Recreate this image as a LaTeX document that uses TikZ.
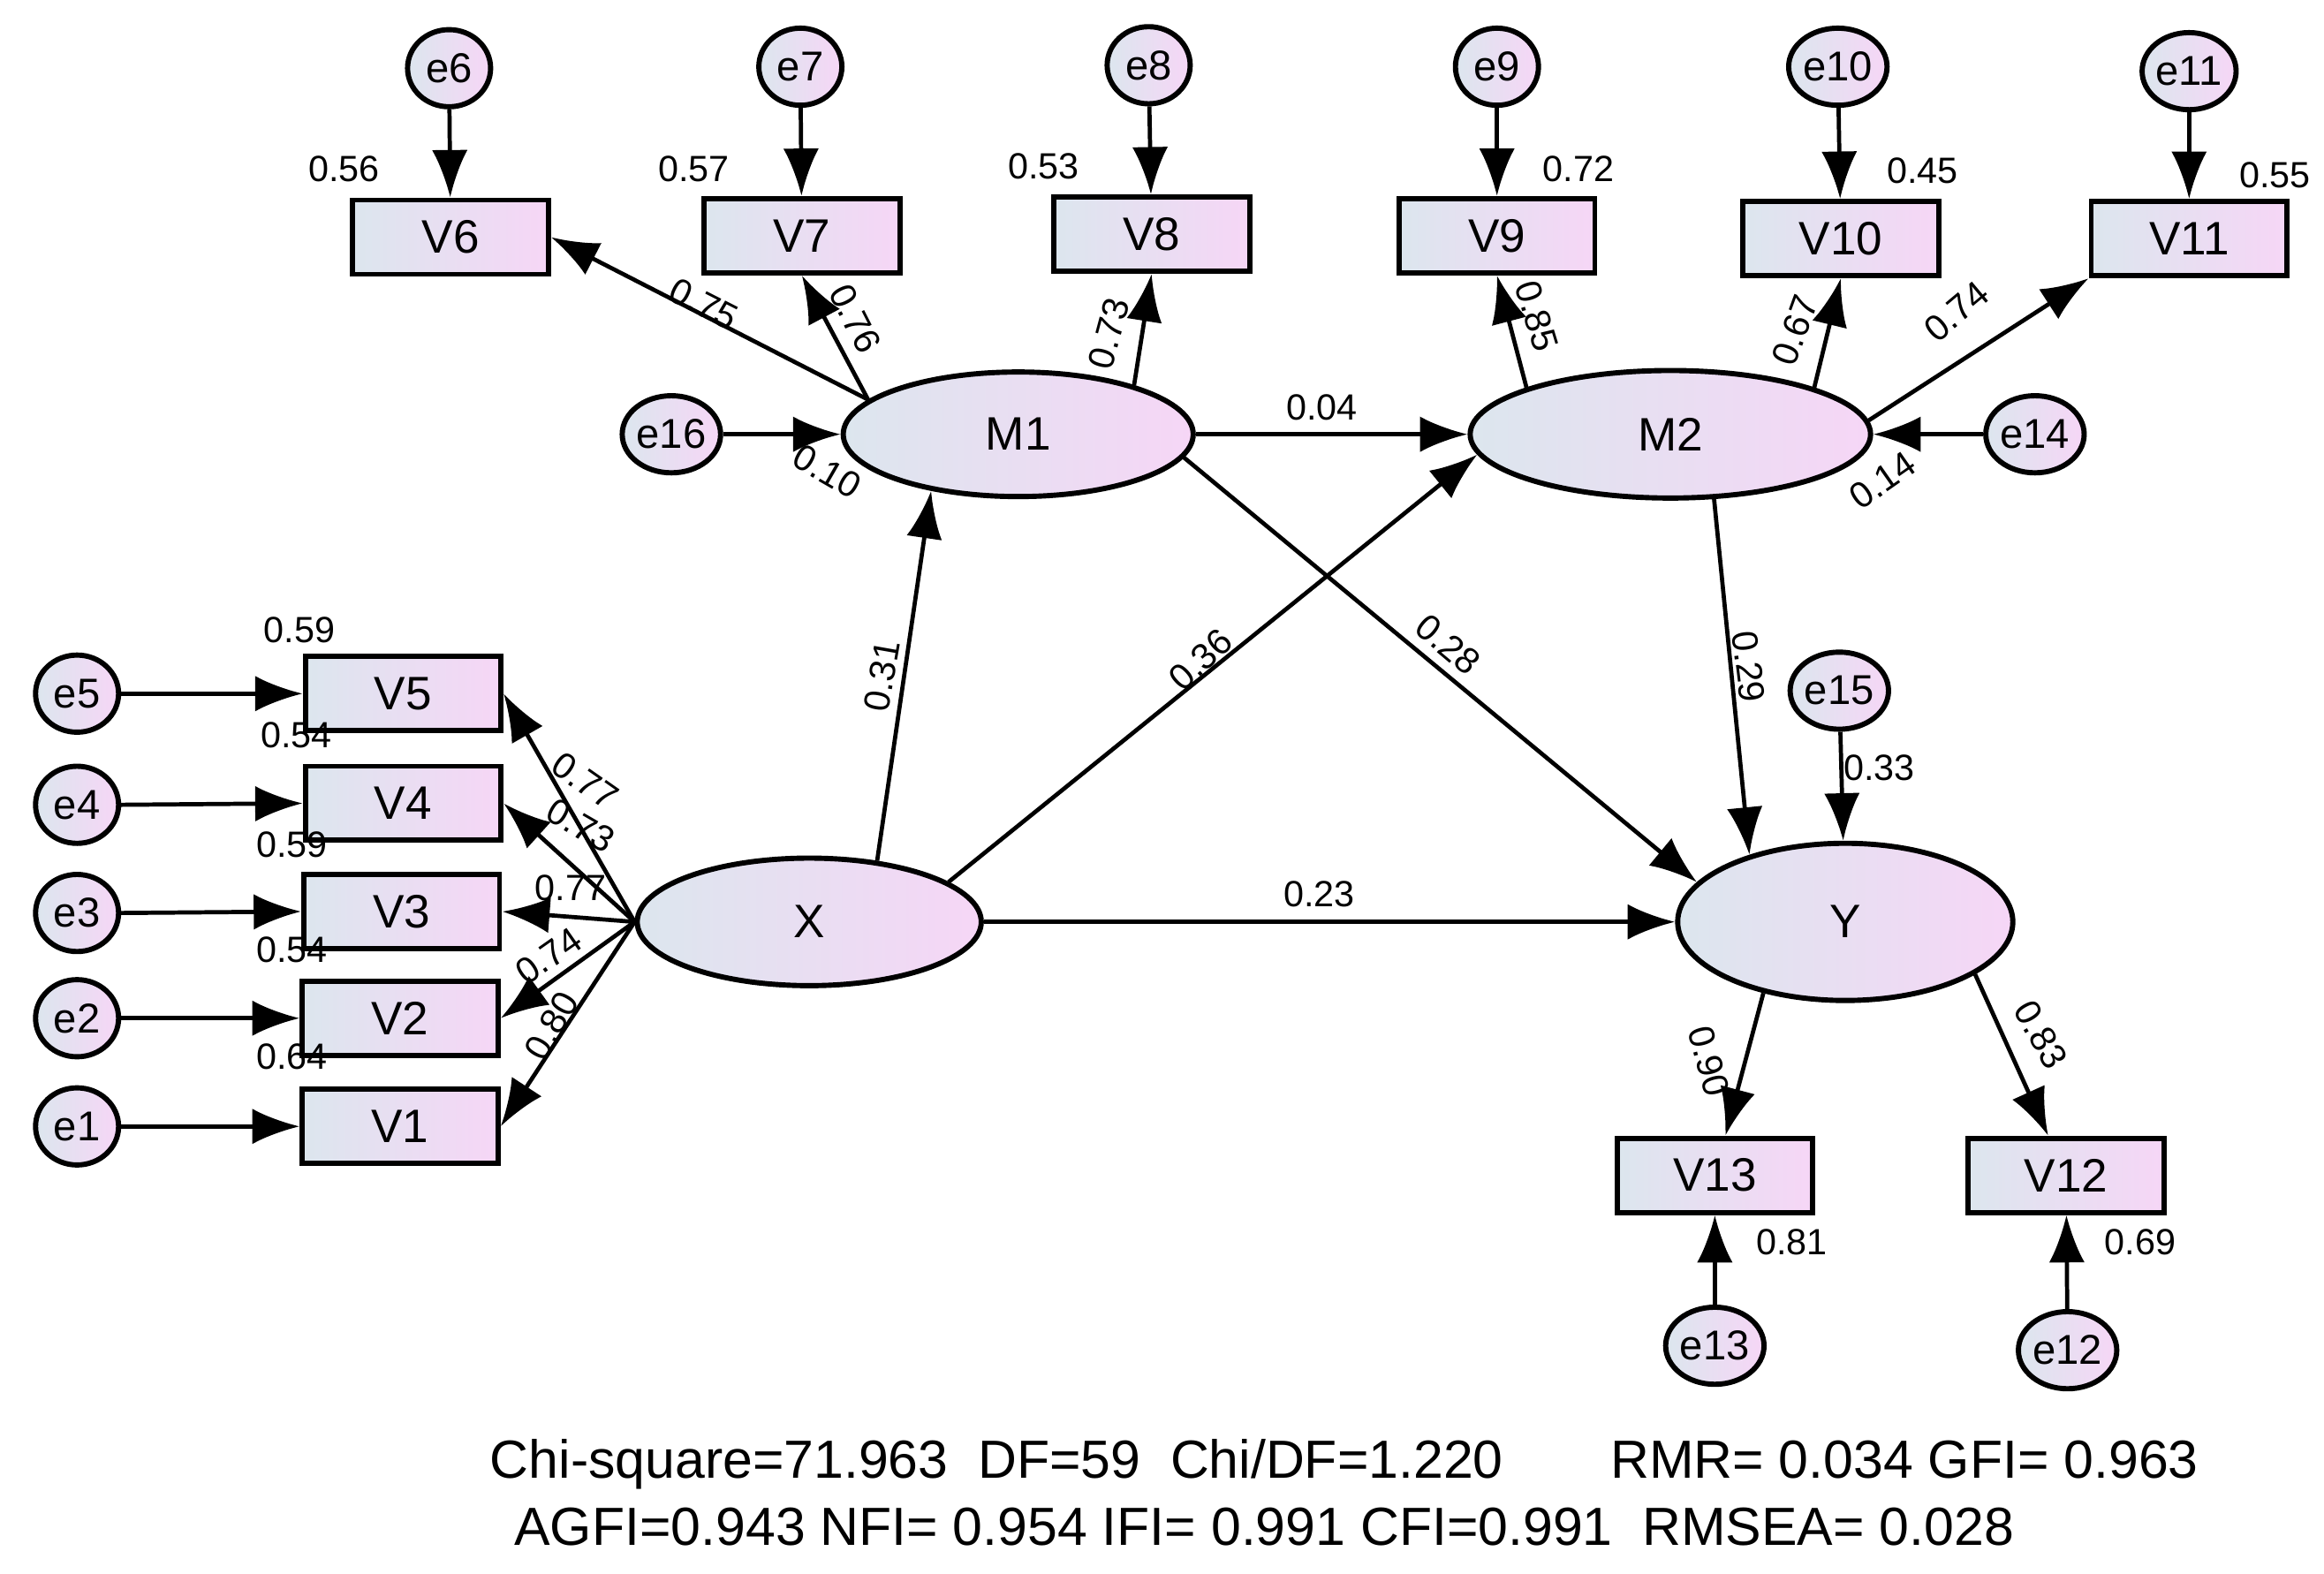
\documentclass[tikz,border=0pt]{standalone}
\usepackage{fontspec}
\setmainfont{Liberation Sans}
\usetikzlibrary{shapes.geometric,arrows.meta}
\definecolor{fillL}{RGB}{220,230,238}
\definecolor{fillR}{RGB}{246,214,246}
\begin{document}
\begin{tikzpicture}
    [
        x=0.01cm, y=-0.01cm,
        obs/.style = {draw, shape=rectangle, minimum height=0.5cm, minimum width=1.32cm, line width=1pt, left color=fillL, right color=fillR, font=\small},
        err/.style = {draw, shape=ellipse, minimum height=0.52cm, minimum width=0.56cm, inner sep=0pt, line width=1pt, left color=fillL, right color=fillR, font=\footnotesize},
        lat/.style = {draw, shape=ellipse, line width=1pt, left color=fillL, right color=fillR, font=\small},
        arr/.style = {-{Latex[length=3.2mm,width=2.4mm]}, line width=0.8pt},
        coef/.style = {font=\scriptsize, inner sep=0pt},
    ]
    \useasboundingbox (0,0) rectangle (1568,1062);

    % latent variables
    \node[lat, minimum width=2.36cm, minimum height=0.84cm] (M1) at (687,293) {M1};
    \node[lat, minimum width=2.70cm, minimum height=0.86cm] (M2) at (1127,293) {M2};
    \node[lat, minimum width=2.32cm, minimum height=0.86cm] (X) at (546,622) {X};
    \node[lat, minimum width=2.26cm, minimum height=1.06cm] (Y) at (1245,622) {Y};

    % indicators of M1 and M2
    \node[obs] (V6) at (304,160) {V6};
    \node[obs] (V7) at (541,159) {V7};
    \node[obs] (V8) at (777,158) {V8};
    \node[obs] (V9) at (1010,159) {V9};
    \node[obs] (V10) at (1242,161) {V10};
    \node[obs] (V11) at (1477,161) {V11};
    \node[err] (e6) at (303,46) {e6};
    \node[err] (e7) at (540,45) {e7};
    \node[err] (e8) at (775,44) {e8};
    \node[err] (e9) at (1010,45) {e9};
    \node[err] (e10) at (1240,45) {e10};
    \node[err] (e11) at (1477,48) {e11};

    % indicators of X
    \node[obs] (V5) at (272,468) {V5};
    \node[obs] (V4) at (272,542) {V4};
    \node[obs] (V3) at (271,615) {V3};
    \node[obs] (V2) at (270,687) {V2};
    \node[obs] (V1) at (270,760) {V1};
    \node[err] (e5) at (52,468) {e5};
    \node[err] (e4) at (52,543) {e4};
    \node[err] (e3) at (52,616) {e3};
    \node[err] (e2) at (52,687) {e2};
    \node[err] (e1) at (52,760) {e1};

    % indicators of Y
    \node[obs] (V13) at (1157,793) {V13};
    \node[obs] (V12) at (1394,793) {V12};
    \node[err] (e13) at (1157,908) {e13};
    \node[err] (e12) at (1395,911) {e12};

    % disturbances
    \node[err] (e16) at (453,293) {e16};
    \node[err] (e14) at (1373,293) {e14};
    \node[err] (e15) at (1241,466) {e15};

    % arrows
    \foreach \e/\v in {e6/V6,e7/V7,e8/V8,e9/V9,e10/V10,e11/V11,e13/V13,e12/V12}
        \draw[arr] (\e) -- (\v);
    \foreach \e/\v in {e5/V5,e4/V4,e3/V3,e2/V2,e1/V1}
        \draw[arr] (\e.east) -- (\v.west);
    \draw[arr] (M1.167) -- (V6.east);
    \draw[arr] (M1.167) -- (V7.south);
    \draw[arr] (M1.23) -- (V8.south);
    \draw[arr] (M2.162) -- (V9.south);
    \draw[arr] (M2.18) -- (V10.south);
    \draw[arr] (M2.4) -- (V11.south west);
    \foreach \v in {V5,V4,V3,V2,V1}
        \draw[arr] (X.west) -- (\v.east);
    \draw[arr] (Y.221) -- (V13);
    \draw[arr] (Y.-22) -- (V12);
    \draw[arr] (e16) -- (M1);
    \draw[arr] (e14) -- (M2);
    \draw[arr] (e15) -- (Y);
    \draw[arr] (M1) -- (M2);
    \draw[arr] (M1.-8) -- (Y.165);
    \draw[arr] (M2.-56) -- (Y.145);
    \draw[arr] (X.42) -- (M1.213);
    \draw[arr] (X.16) -- (M2.186);
    \draw[arr] (X) -- (Y);

    % squared multiple correlations
    \node[coef] at (232,114) {0.56};
    \node[coef] at (468,114) {0.57};
    \node[coef] at (704,112) {0.53};
    \node[coef] at (1065,114) {0.72};
    \node[coef] at (1297,115) {0.45};
    \node[coef] at (1535,118) {0.55};
    \node[coef] at (202,425) {0.59};
    \node[coef] at (200,496) {0.54};
    \node[coef] at (197,570) {0.59};
    \node[coef] at (197,641) {0.54};
    \node[coef] at (197,713) {0.64};
    \node[coef] at (1209,838) {0.81};
    \node[coef] at (1444,838) {0.69};
    \node[coef] at (1268,518) {0.33};

    % path coefficients
    \node[coef, rotate=-27] at (475,205) {0.75};
    \node[coef, rotate=-63] at (577,215) {0.76};
    \node[coef, rotate=75] at (748,225) {0.73};
    \node[coef, rotate=-73] at (1037,213) {0.85};
    \node[coef, rotate=70] at (1211,223) {0.67};
    \node[coef, rotate=40] at (1320,210) {0.74};
    \node[coef, rotate=-30] at (558,318) {0.10};
    \node[coef, rotate=35] at (1270,324) {0.14};
    \node[coef] at (892,275) {0.04};
    \node[coef, rotate=80] at (595,456) {0.31};
    \node[coef, rotate=43] at (810,445) {0.36};
    \node[coef, rotate=-40] at (977,435) {0.28};
    \node[coef, rotate=-83] at (1180,450) {0.29};
    \node[coef] at (890,603) {0.23};
    \node[coef, rotate=-35] at (395,527) {0.77};
    \node[coef, rotate=-30] at (392,557) {0.73};
    \node[coef] at (385,599) {0.77};
    \node[coef, rotate=35] at (370,645) {0.74};
    \node[coef, rotate=60] at (372,692) {0.80};
    \node[coef, rotate=-75] at (1153,716) {0.90};
    \node[coef, rotate=-60] at (1377,698) {0.83};

    % fit indices
    \node[font=\fontsize{10.3}{12}\selectfont] (fit1) at (907,988) {Chi-square=71.963\ \ DF=59\ \ Chi/DF=1.220\qquad RMR= 0.034 GFI= 0.963};
    \node[font=\fontsize{10.3}{12}\selectfont] (fit2) at (853,1030) {AGFI=0.943 NFI= 0.954 IFI= 0.991 CFI=0.991\ \ RMSEA= 0.028};
\end{tikzpicture}
\end{document}
